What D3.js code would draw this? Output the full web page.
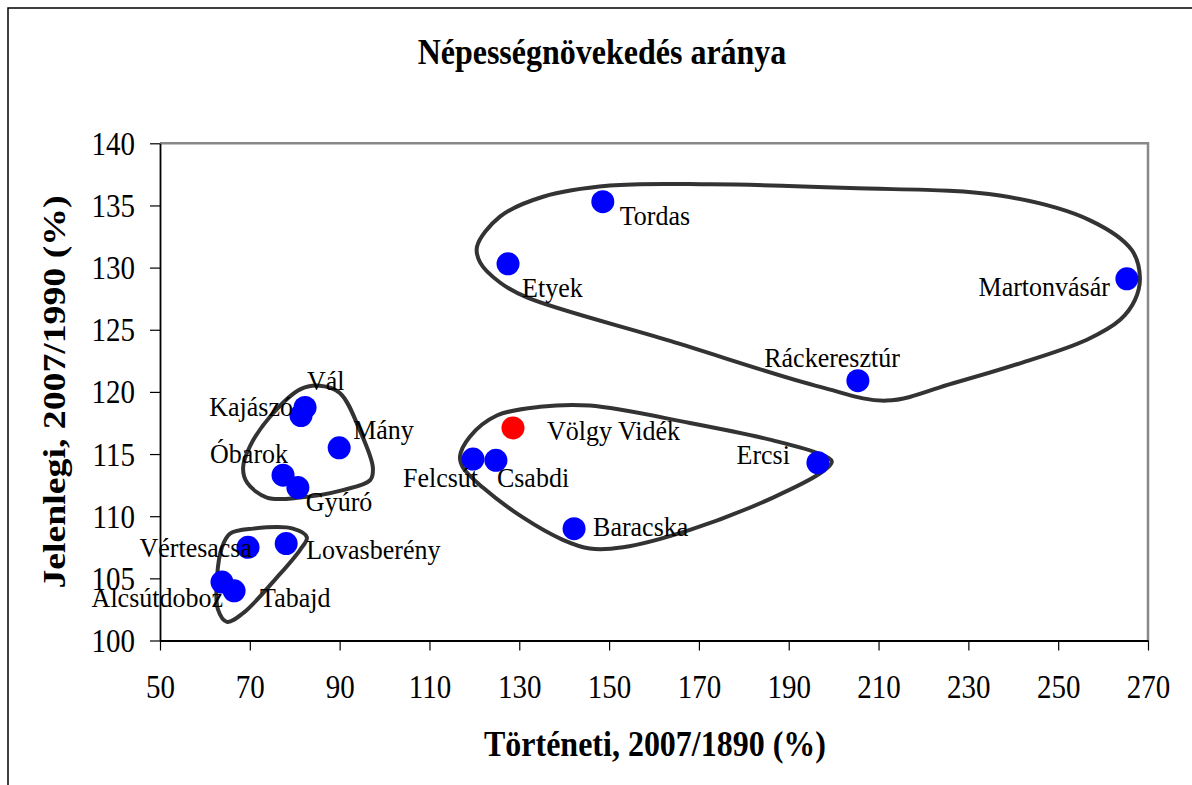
<!DOCTYPE html>
<html>
<head>
<meta charset="utf-8">
<script src="https://cdn.jsdelivr.net/npm/d3@7"></script>
<style>
  body { margin: 0; background: #fff; }
  text { font-family: "Liberation Serif", "Times New Roman", serif; fill: #000; }
</style>
</head>
<body>
<script>
// settlements and their two growth ratios (%)
let towns = ["Tordas", "Etyek", "Martonvásár", "Ráckeresztúr", "Völgy Vidék", "Ercsi",
    "Felcsút", "Csabdi", "Baracska", "Vál", "Kajászó", "Mány", "Óbarok", "Gyúró",
    "Vértesacsa", "Lovasberény", "Alcsútdoboz", "Tabajd"];
let historic = [148.6, 127.5, 265.3, 205.4, 128.6, 196.5,
    119.7, 124.8, 142.2, 82.3, 81.4, 89.9, 77.4, 80.7,
    69.6, 78.1, 63.8, 66.5];
let current = [135.3, 130.3, 129.1, 120.9, 117.1, 114.3,
    114.6, 114.5, 109.0, 118.75, 118.1, 115.5, 113.3, 112.3,
    107.5, 107.8, 104.7, 104.0];
let highlighted = "Völgy Vidék";

let xTicks = [50, 70, 90, 110, 130, 150, 170, 190, 210, 230, 250, 270];
let yTicks = [100, 105, 110, 115, 120, 125, 130, 135, 140];

// hand drawn group outlines, in data units
let outlineTop = [[120.6, 131.7], [121.3, 130.4], [125.7, 128.8], [131.7, 127.6], [163.6, 124.1],
    [197.0, 120.4], [211.8, 119.3], [226.6, 120.7], [241.5, 122.3], [256.4, 124.2], [263.8, 125.8],
    [267.1, 127.4], [268.2, 129.2], [266.4, 131.4], [257.1, 133.8], [237.0, 135.8], [203.6, 136.4],
    [172.5, 136.7], [150.2, 136.6], [135.3, 135.7], [125.7, 134.1]];
let outlineMid = [[116.8, 114.8], [119.0, 116.4], [125.0, 118.1], [134.6, 118.8], [145.7, 118.9],
    [168.0, 117.5], [186.5, 116.1], [197.0, 115.0], [199.6, 114.4], [197.6, 113.6], [186.5, 111.5],
    [168.0, 108.9], [153.1, 107.5], [145.7, 107.4], [139.7, 108.1], [130.8, 109.9], [121.9, 112.3],
    [117.5, 113.9]];
let outlineLeftUp = [[85.6, 120.5], [90.1, 119.9], [94.5, 116.9], [97.4, 113.9], [96.8, 112.9],
    [90.7, 112.1], [81.2, 111.5], [73.8, 111.5], [69.4, 112.7], [68.5, 113.9], [70.0, 115.6],
    [74.5, 118.0], [81.2, 120.2]];
let outlineLeftLow = [[63.8, 107.5], [65.6, 108.6], [70.7, 109.0], [79.6, 109.0], [82.7, 108.3],
    [81.2, 107.3], [76.1, 105.1], [68.5, 102.2], [64.9, 101.5], [62.9, 102.5], [62.7, 105.1]];

// label placement next to each dot: anchor, dx, dy (px)
let labelPlace = {
    "Tordas": ["start", 17, 23], "Etyek": ["start", 14, 33], "Martonvásár": ["end", -17, 17],
    "Ráckeresztúr": ["end", 42, -14], "Völgy Vidék": ["start", 34, 12], "Ercsi": ["end", -28, 1],
    "Felcsút": ["end", 5, 28], "Csabdi": ["start", 1, 27], "Baracska": ["start", 19, 7],
    "Vál": ["start", 2, -17], "Kajászó": ["end", -8, 0], "Mány": ["start", 14, -9],
    "Óbarok": ["end", 5, -12], "Gyúró": ["start", 8, 23], "Vértesacsa": ["end", 4, 10],
    "Lovasberény": ["start", 20, 15], "Alcsútdoboz": ["end", 1, 25], "Tabajd": ["start", 26, 16]
};

let points = towns.map((name, i) => ({ name: name, h: historic[i], c: current[i] }));

let svg = d3.select("body").append("svg").attr("width", 1192).attr("height", 785);

let x = d3.scaleLinear().domain([50, 270]).range([160, 1148]);
let y = d3.scaleLinear().domain([100, 140]).range([640.5, 143.3]);

// outer chart frame (only left and top visible)
svg.append("path")
    .attr("d", "M8,785V8H1192")
    .attr("fill", "none").attr("stroke", "#000").attr("stroke-width", 1.5);

// plot area border, grey on top and right
svg.append("path")
    .attr("d", `M${x(50)},${y(140)}H${x(270)}V${y(100)}`)
    .attr("fill", "none").attr("stroke", "#888").attr("stroke-width", 2.5);

// outlines
let outline = d3.line()
    .x(d => x(d[0]))
    .y(d => y(d[1]))
    .curve(d3.curveCatmullRomClosed.alpha(0.5));

svg.selectAll(".outline")
    .data([outlineTop, outlineMid, outlineLeftUp, outlineLeftLow])
    .enter()
    .append("path")
    .attr("class", "outline")
    .attr("d", outline)
    .attr("fill", "none")
    .attr("stroke", "#333")
    .attr("stroke-width", 4);

// axes
let yAxis = svg.append("g")
    .attr("transform", `translate(${x(50)},0)`)
    .call(d3.axisLeft(y).tickValues(yTicks).tickSize(10).tickSizeOuter(0));
let xAxis = svg.append("g")
    .attr("transform", `translate(0,${y(100)})`)
    .call(d3.axisBottom(x).tickValues(xTicks).tickSize(10).tickSizeOuter(0));

[xAxis, yAxis].forEach(ax => {
    ax.select(".domain").attr("stroke", "#000").attr("stroke-width", 1.8);
    ax.selectAll(".tick line").attr("stroke", "#000").attr("stroke-width", 1.2);
    ax.selectAll("text").style("font-size", "29px").attr("fill", "#000");
});
yAxis.selectAll("text")
    .attr("x", 0).attr("dy", "0.33em")
    .attr("transform", "translate(-25,0) scale(1,1.15)");
xAxis.selectAll("text")
    .attr("y", 0).attr("dy", null)
    .attr("transform", "translate(0,57) scale(1,1.15)");

// dots
svg.selectAll(".dot")
    .data(points)
    .enter()
    .append("circle")
    .attr("class", "dot")
    .attr("cx", d => x(d.h))
    .attr("cy", d => y(d.c))
    .attr("r", 11.5)
    .attr("fill", d => d.name === highlighted ? "#ff0000" : "#0000ff");

// labels
svg.selectAll(".lbl")
    .data(points)
    .enter()
    .append("text")
    .attr("class", "lbl")
    .attr("text-anchor", d => labelPlace[d.name][0])
    .attr("transform", d => {
        let p = labelPlace[d.name];
        return "translate(" + (x(d.h) + p[1]) + "," + (y(d.c) + p[2]) + ") scale(1,1.08)";
    })
    .style("font-size", "26px")
    .text(d => d.name);

// titles
svg.append("text")
    .attr("text-anchor", "middle")
    .attr("transform", "translate(602,64) scale(1,1.15)")
    .style("font-size", "32px").style("font-weight", "bold")
    .text("Népességnövekedés aránya");

svg.append("text")
    .attr("text-anchor", "middle")
    .attr("transform", "translate(655,756) scale(1,1.15)")
    .style("font-size", "32px").style("font-weight", "bold")
    .text("Történeti, 2007/1890 (%)");

svg.append("text")
    .attr("text-anchor", "middle")
    .attr("transform", "translate(65,392) scale(1,1.18) rotate(-90)")
    .style("font-size", "32px").style("font-weight", "bold")
    .text("Jelenlegi, 2007/1990 (%)");
</script>
</body>
</html>
